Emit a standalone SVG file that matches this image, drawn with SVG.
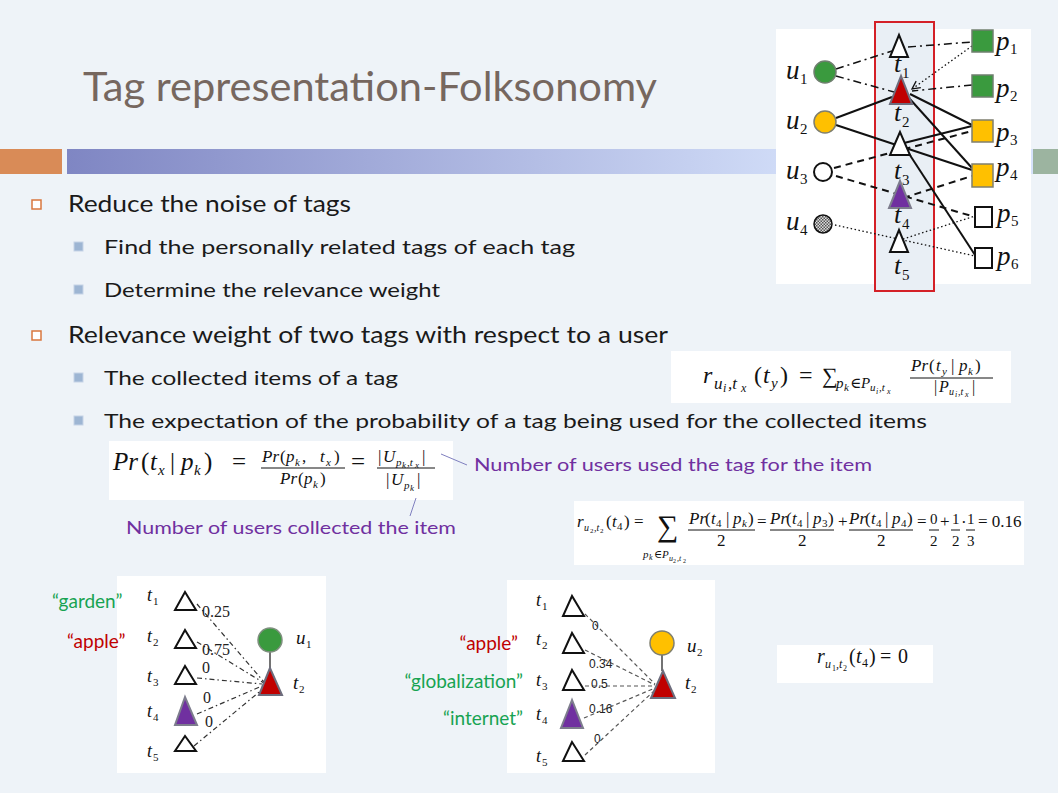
<svg xmlns="http://www.w3.org/2000/svg" width="1058" height="793" viewBox="0 0 1058 793">
<style>
.body{font-family:Lato,"Open Sans","DejaVu Sans",sans-serif;fill:#1a1a1a}
.l1{font-size:23px}
.l2{font-size:19px}
.title{font-family:Lato,"Open Sans",sans-serif;font-size:40px;fill:#76675F}
.m{font-family:"Liberation Serif","DejaVu Serif",serif;fill:#111}
.mi{font-family:"Liberation Serif","DejaVu Serif",serif;font-style:italic;fill:#111}
.note{font-family:Lato,"Open Sans",sans-serif;font-size:17px;fill:#7030A0}
.gl{font-family:Lato,"Open Sans",sans-serif;font-size:19px;fill:#17A352}
.rl{font-family:Lato,"Open Sans",sans-serif;font-size:19px;fill:#C00000}
.w{font-family:"Liberation Serif",serif;font-size:16px;fill:#222}
.ws{font-family:"Liberation Sans",Arial,sans-serif;font-size:12px;fill:#222}
.tri{fill:#fff;stroke:#111;stroke-width:2;stroke-linejoin:miter}
.trr{fill:#C00000;stroke:#6d6d7d;stroke-width:2}
.trp{fill:#7030A0;stroke:#7d7d8d;stroke-width:2}
.box{fill:#fff}
.solid{stroke:#111;stroke-width:2;fill:none}
.dash{stroke:#111;stroke-width:2;stroke-dasharray:7 5;fill:none}
.dd{stroke:#111;stroke-width:1.5;stroke-dasharray:8 4 2 4;fill:none}
.dot{stroke:#111;stroke-width:1.3;stroke-dasharray:1.5 2.5;fill:none}
.bdd{stroke:#333;stroke-width:1.2;stroke-dasharray:5 3 1.5 3;fill:none}
.bdot{stroke:#555;stroke-width:1.2;stroke-dasharray:4 3;fill:none}
</style>
<defs>
<linearGradient id="bar" x1="67" y1="0" x2="840" y2="0" gradientUnits="userSpaceOnUse">
<stop offset="0" stop-color="#7F86C3"/>
<stop offset="1" stop-color="#D6E2FB"/>
</linearGradient>
<pattern id="chk" width="3" height="3" patternUnits="userSpaceOnUse">
<rect width="3" height="3" fill="#ddd"/>
<rect width="1.5" height="1.5" fill="#555"/>
<rect x="1.5" y="1.5" width="1.5" height="1.5" fill="#555"/>
</pattern>
<marker id="arr" markerWidth="10" markerHeight="10" refX="9" refY="5" orient="auto" markerUnits="userSpaceOnUse">
<path d="M1,1 L9,5 L1,9" fill="none" stroke="#111" stroke-width="1.3"/>
</marker>
</defs>

<rect width="1058" height="793" fill="#EEF3F8"/>

<!-- header -->
<text class="title" x="83" y="101" textLength="574" lengthAdjust="spacingAndGlyphs">Tag representation-Folksonomy</text>
<rect x="0" y="149" width="62" height="25" fill="#D98B57"/>
<rect x="67" y="149" width="966" height="25" fill="url(#bar)"/>
<rect x="1033" y="149" width="25" height="25" fill="#9CB4A0"/>

<!-- bullets -->
<g id="bullets">
<rect x="32" y="200" width="9" height="9" fill="#fff" stroke="#D9773E" stroke-width="1.5"/>
<text class="body l1" x="68" y="212" textLength="283" lengthAdjust="spacingAndGlyphs">Reduce the noise of tags</text>
<rect x="74" y="242" width="9" height="9" fill="#9DB5D3" stroke="#c5d3e6" stroke-width="1"/>
<text class="body l2" x="104" y="254" textLength="471" lengthAdjust="spacingAndGlyphs">Find the personally related tags of each tag</text>
<rect x="74" y="285" width="9" height="9" fill="#9DB5D3" stroke="#c5d3e6" stroke-width="1"/>
<text class="body l2" x="104" y="297" textLength="336" lengthAdjust="spacingAndGlyphs">Determine the relevance weight</text>
<rect x="32" y="331" width="9" height="9" fill="#fff" stroke="#D9773E" stroke-width="1.5"/>
<text class="body l1" x="68" y="343" textLength="600" lengthAdjust="spacingAndGlyphs">Relevance weight of two tags with respect to a user</text>
<rect x="74" y="373" width="9" height="9" fill="#9DB5D3" stroke="#c5d3e6" stroke-width="1"/>
<text class="body l2" x="104" y="385" textLength="294" lengthAdjust="spacingAndGlyphs">The collected items of a tag</text>
<rect x="74" y="416" width="9" height="9" fill="#9DB5D3" stroke="#c5d3e6" stroke-width="1"/>
<text class="body l2" x="104" y="428" textLength="823" lengthAdjust="spacingAndGlyphs">The expectation of the probability of a tag being used for the collected items</text>
</g>

<!-- top right folksonomy graph -->
<g id="folksonomy">
<rect x="776" y="29" width="255" height="255" fill="#fff"/>
<rect x="875" y="22" width="59" height="269" fill="#E9EFF5" stroke="#D42027" stroke-width="2"/>
<g id="graph-connectors">
<line class="dd" x1="836" y1="69" x2="892" y2="51"/>
<line class="dd" x1="836" y1="76" x2="894" y2="92"/>
<line class="dd" x1="908" y1="47" x2="972" y2="42"/>
<line class="dot" x1="972" y1="46" x2="912" y2="89" marker-end="url(#arr)"/>
<line class="dd" x1="972" y1="85" x2="912" y2="91"/>
<line class="solid" x1="836" y1="118" x2="892" y2="97"/>
<line class="solid" x1="836" y1="125" x2="972" y2="170"/>
<line class="solid" x1="910" y1="94" x2="972" y2="125"/>
<line class="solid" x1="909" y1="98" x2="972" y2="168"/>
<line class="solid" x1="904" y1="143" x2="972" y2="126"/>
<line class="solid" x1="904" y1="146" x2="975" y2="255"/>
<line class="dash" x1="834" y1="168" x2="972" y2="131"/>
<line class="dash" x1="836" y1="176" x2="975" y2="217"/>
<line class="dash" x1="903" y1="198" x2="972" y2="176"/>
<line class="dot" x1="835" y1="225" x2="975" y2="256"/>
<line class="dot" x1="903" y1="239" x2="975" y2="216"/>
</g>
<g id="u1"><circle cx="825" cy="72" r="11" fill="#3A9A3E" stroke="#6f7f6f" stroke-width="1.5"/><text class="mi" x="786" y="79" font-size="27">u</text><text class="m" x="800" y="84" font-size="15">1</text></g>
<g id="u2"><circle cx="825" cy="122" r="11" fill="#FFC000" stroke="#7f7f6f" stroke-width="1.5"/><text class="mi" x="786" y="129" font-size="27">u</text><text class="m" x="800" y="134" font-size="15">2</text></g>
<g id="u3"><circle cx="823" cy="172" r="9" fill="#fff" stroke="#111" stroke-width="2"/><text class="mi" x="786" y="179" font-size="27">u</text><text class="m" x="800" y="184" font-size="15">3</text></g>
<g id="u4"><circle cx="823" cy="224" r="9" fill="url(#chk)" stroke="#111" stroke-width="1.5"/><text class="mi" x="786" y="230" font-size="27">u</text><text class="m" x="800" y="235" font-size="15">4</text></g>
<g id="t1"><polygon class="tri" points="899,35 890,57 908,57"/><text class="mi" x="894" y="72" font-size="26">t</text><text class="m" x="902" y="78" font-size="15">1</text></g>
<g id="t2"><polygon class="trr" points="901,76 890,104 912,104"/><text class="mi" x="894" y="121" font-size="26">t</text><text class="m" x="902" y="127" font-size="15">2</text></g>
<g id="t3"><polygon class="tri" points="900,132 890,155 910,155"/><text class="mi" x="894" y="179" font-size="26">t</text><text class="m" x="902" y="185" font-size="15">3</text></g>
<g id="t4"><polygon class="trp" points="900,181 889,208 911,208"/><text class="mi" x="894" y="223" font-size="26">t</text><text class="m" x="902" y="229" font-size="15">4</text></g>
<g id="t5"><polygon class="tri" points="899,230 890,252 908,252"/><text class="mi" x="894" y="274" font-size="26">t</text><text class="m" x="902" y="280" font-size="15">5</text></g>
<g id="p1"><rect x="972" y="30" width="21" height="22" fill="#3A9A3E" stroke="#6f7f6f" stroke-width="1.5"/><text class="mi" x="996" y="50" font-size="27">p</text><text class="m" x="1010" y="54" font-size="15">1</text></g>
<g id="p2"><rect x="972" y="75" width="21" height="22" fill="#3A9A3E" stroke="#6f7f6f" stroke-width="1.5"/><text class="mi" x="996" y="97" font-size="27">p</text><text class="m" x="1010" y="101" font-size="15">2</text></g>
<g id="p3"><rect x="972" y="120" width="21" height="22" fill="#FFC000" stroke="#7f7f6f" stroke-width="1.5"/><text class="mi" x="996" y="141" font-size="27">p</text><text class="m" x="1010" y="145" font-size="15">3</text></g>
<g id="p4"><rect x="972" y="164" width="21" height="23" fill="#FFC000" stroke="#7f7f6f" stroke-width="1.5"/><text class="mi" x="996" y="176" font-size="27">p</text><text class="m" x="1010" y="180" font-size="15">4</text></g>
<g id="p5"><rect x="975" y="207" width="17" height="20" fill="#fff" stroke="#111" stroke-width="2"/><text class="mi" x="997" y="222" font-size="27">p</text><text class="m" x="1011" y="226" font-size="15">5</text></g>
<g id="p6"><rect x="975" y="248" width="17" height="20" fill="#fff" stroke="#111" stroke-width="2"/><text class="mi" x="997" y="265" font-size="27">p</text><text class="m" x="1011" y="269" font-size="15">6</text></g>
</g>

<!-- formula 1 -->
<g id="formula-r">
<rect class="box" x="671" y="351" width="340" height="52"/>
<text class="mi" x="703" y="383" font-size="24">r</text>
<text class="mi" x="714" y="389" font-size="17">u</text><text class="mi" x="723" y="392" font-size="12">i</text><text class="mi" x="728" y="389" font-size="17">,t</text><text class="mi" x="741" y="392" font-size="12">x</text>
<text class="m" x="754" y="383" font-size="24">(</text><text class="mi" x="763" y="383" font-size="24">t</text><text class="mi" x="771" y="388" font-size="15">y</text><text class="m" x="780" y="383" font-size="24">)</text>
<text class="m" x="799" y="383" font-size="24">=</text>
<text class="m" x="822" y="383" font-size="22">∑</text>
<text class="mi" x="836" y="388" font-size="15">p</text><text class="mi" x="844" y="391" font-size="11">k</text><text class="m" x="850" y="388" font-size="15">∈</text><text class="mi" x="861" y="388" font-size="15">P</text><text class="mi" x="870" y="391" font-size="11">u</text><text class="mi" x="876" y="394" font-size="8">i</text><text class="mi" x="879" y="391" font-size="11">,t</text><text class="mi" x="887" y="394" font-size="8">x</text>
<text class="mi" x="911" y="371" font-size="17">Pr</text><text class="m" x="929" y="371" font-size="17">(</text><text class="mi" x="936" y="371" font-size="17">t</text><text class="mi" x="942" y="375" font-size="11">y</text><text class="m" x="951" y="371" font-size="17">|</text><text class="mi" x="959" y="371" font-size="17">p</text><text class="mi" x="968" y="375" font-size="11">k</text><text class="m" x="975" y="371" font-size="17">)</text>
<line x1="910" y1="378" x2="993" y2="378" stroke="#111" stroke-width="1"/>
<text class="m" x="934" y="392" font-size="16">|</text><text class="mi" x="939" y="392" font-size="16">P</text><text class="mi" x="949" y="395" font-size="10">u</text><text class="mi" x="955" y="397" font-size="8">i</text><text class="mi" x="958" y="395" font-size="10">,t</text><text class="mi" x="965" y="397" font-size="8">x</text><text class="m" x="972" y="392" font-size="16">|</text>
</g>

<!-- formula 2 -->
<g id="formula-pr">
<rect class="box" x="109" y="441" width="344" height="59"/>
<text class="mi" x="113" y="470" font-size="25">Pr</text><text class="m" x="141" y="470" font-size="25">(</text><text class="mi" x="150" y="470" font-size="25">t</text><text class="mi" x="158" y="475" font-size="15">x</text><text class="m" x="170" y="470" font-size="25">|</text><text class="mi" x="181" y="470" font-size="25">p</text><text class="mi" x="194" y="475" font-size="15">k</text><text class="m" x="204" y="470" font-size="25">)</text>
<text class="m" x="232" y="470" font-size="25">=</text>
<text class="mi" x="262" y="462" font-size="17">Pr</text><text class="m" x="280" y="462" font-size="17">(</text><text class="mi" x="286" y="462" font-size="17">p</text><text class="mi" x="295" y="466" font-size="11">k</text><text class="m" x="302" y="462" font-size="17">,</text><text class="mi" x="320" y="462" font-size="17">t</text><text class="mi" x="326" y="466" font-size="11">x</text><text class="m" x="334" y="462" font-size="17">)</text>
<line x1="261" y1="468" x2="345" y2="468" stroke="#111" stroke-width="1"/>
<text class="mi" x="280" y="484" font-size="17">Pr</text><text class="m" x="298" y="484" font-size="17">(</text><text class="mi" x="304" y="484" font-size="17">p</text><text class="mi" x="313" y="488" font-size="11">k</text><text class="m" x="320" y="484" font-size="17">)</text>
<text class="m" x="351" y="470" font-size="25">=</text>
<text class="m" x="378" y="462" font-size="17">|</text><text class="mi" x="383" y="462" font-size="17">U</text><text class="mi" x="396" y="466" font-size="11">p</text><text class="mi" x="402" y="468" font-size="9">k</text><text class="mi" x="407" y="466" font-size="11">,t</text><text class="mi" x="415" y="468" font-size="9">x</text><text class="m" x="422" y="462" font-size="17">|</text>
<line x1="377" y1="468" x2="435" y2="468" stroke="#111" stroke-width="1"/>
<text class="m" x="386" y="485" font-size="17">|</text><text class="mi" x="391" y="485" font-size="17">U</text><text class="mi" x="404" y="489" font-size="11">p</text><text class="mi" x="410" y="491" font-size="9">k</text><text class="m" x="417" y="485" font-size="17">|</text>
</g>

<!-- annotations -->
<g id="notes">
<line x1="441" y1="454" x2="467" y2="465" stroke="#7F7FBF" stroke-width="1"/>
<text class="note" x="474" y="471" textLength="398" lengthAdjust="spacingAndGlyphs">Number of users used the tag for the item</text>
<line x1="416" y1="498" x2="410" y2="516" stroke="#7F7FBF" stroke-width="1"/>
<text class="note" x="126" y="534" textLength="330" lengthAdjust="spacingAndGlyphs">Number of users collected the item</text>
</g>

<!-- formula 3 -->
<g id="formula-calc">
<rect class="box" x="574" y="501" width="450" height="64"/>
<text class="mi" x="577" y="527" font-size="17">r</text><text class="mi" x="584" y="531" font-size="10">u</text><text class="m" x="590" y="533" font-size="7">2</text><text class="mi" x="594" y="531" font-size="10">,t</text><text class="m" x="600" y="533" font-size="7">2</text>
<text class="m" x="606" y="527" font-size="17">(</text><text class="mi" x="612" y="527" font-size="17">t</text><text class="m" x="617" y="530" font-size="11">4</text><text class="m" x="624" y="527" font-size="17">)</text>
<text class="m" x="634" y="527" font-size="17">=</text>
<text class="m" x="657" y="536" font-size="30">∑</text>
<text class="mi" x="643" y="558" font-size="11">p</text><text class="mi" x="649" y="560" font-size="8">k</text><text class="m" x="654" y="558" font-size="11">∈</text><text class="mi" x="662" y="558" font-size="11">P</text><text class="mi" x="669" y="561" font-size="8">u</text><text class="m" x="673" y="563" font-size="6">2</text><text class="mi" x="677" y="561" font-size="8">,t</text><text class="m" x="683" y="563" font-size="6">2</text>
<text class="mi" x="689" y="524" font-size="17">Pr</text><text class="m" x="705" y="524" font-size="17">(</text><text class="mi" x="711" y="524" font-size="17">t</text><text class="m" x="716" y="527" font-size="11">4</text><text class="m" x="726" y="524" font-size="17">|</text><text class="mi" x="733" y="524" font-size="17">p</text><text class="mi" x="742" y="527" font-size="11">k</text><text class="m" x="748" y="524" font-size="17">)</text>
<line x1="688" y1="530" x2="755" y2="530" stroke="#111" stroke-width="1"/>
<text class="m" x="717" y="546" font-size="17">2</text>
<text class="m" x="757" y="527" font-size="17">=</text>
<text class="mi" x="770" y="524" font-size="17">Pr</text><text class="m" x="786" y="524" font-size="17">(</text><text class="mi" x="792" y="524" font-size="17">t</text><text class="m" x="797" y="527" font-size="11">4</text><text class="m" x="806" y="524" font-size="17">|</text><text class="mi" x="813" y="524" font-size="17">p</text><text class="m" x="822" y="527" font-size="11">3</text><text class="m" x="828" y="524" font-size="17">)</text>
<line x1="770" y1="530" x2="834" y2="530" stroke="#111" stroke-width="1"/>
<text class="m" x="798" y="546" font-size="17">2</text>
<text class="m" x="838" y="527" font-size="17">+</text>
<text class="mi" x="849" y="524" font-size="17">Pr</text><text class="m" x="865" y="524" font-size="17">(</text><text class="mi" x="871" y="524" font-size="17">t</text><text class="m" x="876" y="527" font-size="11">4</text><text class="m" x="885" y="524" font-size="17">|</text><text class="mi" x="892" y="524" font-size="17">p</text><text class="m" x="901" y="527" font-size="11">4</text><text class="m" x="907" y="524" font-size="17">)</text>
<line x1="849" y1="530" x2="913" y2="530" stroke="#111" stroke-width="1"/>
<text class="m" x="877" y="546" font-size="17">2</text>
<text class="m" x="917" y="527" font-size="17">=</text>
<text class="m" x="930" y="524" font-size="15">0</text><line x1="929" y1="530" x2="939" y2="530" stroke="#111" stroke-width="1"/><text class="m" x="930" y="546" font-size="15">2</text>
<text class="m" x="940" y="527" font-size="17">+</text>
<text class="m" x="952" y="524" font-size="15">1</text><line x1="951" y1="530" x2="960" y2="530" stroke="#111" stroke-width="1"/><text class="m" x="952" y="546" font-size="15">2</text>
<text class="m" x="961" y="528" font-size="17">·</text>
<text class="m" x="967" y="524" font-size="15">1</text><line x1="966" y1="530" x2="975" y2="530" stroke="#111" stroke-width="1"/><text class="m" x="967" y="546" font-size="15">3</text>
<text class="m" x="978" y="527" font-size="17">= 0.16</text>
</g>

<!-- bottom-left graph -->
<g id="graph-u1">
<rect x="117" y="576" width="209" height="197" fill="#fff"/>
<g id="bl-connectors">
<line class="bdd" x1="197" y1="604" x2="264" y2="682"/>
<line class="bdd" x1="197" y1="642" x2="264" y2="683"/>
<line class="bdd" x1="197" y1="678" x2="262" y2="684"/>
<line class="bdd" x1="197" y1="714" x2="262" y2="686"/>
<line class="bdd" x1="194" y1="746" x2="264" y2="688"/>
<line x1="270" y1="652" x2="270" y2="668" stroke="#444" stroke-width="1.5"/>
</g>
<g id="bl-t1"><polygon class="tri" points="185,592 175,610 196,610"/><text class="mi" x="147" y="601" font-size="18">t</text><text class="m" x="153" y="605" font-size="11">1</text></g>
<g id="bl-t2"><polygon class="tri" points="185,630 175,648 196,648"/><text class="mi" x="147" y="642" font-size="18">t</text><text class="m" x="153" y="646" font-size="11">2</text></g>
<g id="bl-t3"><polygon class="tri" points="185,666 175,684 196,684"/><text class="mi" x="147" y="682" font-size="18">t</text><text class="m" x="153" y="686" font-size="11">3</text></g>
<g id="bl-t4"><polygon class="trp" points="185,697 175,725 197,725"/><text class="mi" x="147" y="717" font-size="18">t</text><text class="m" x="153" y="721" font-size="11">4</text></g>
<g id="bl-t5"><polygon class="tri" points="185,736 175,751 196,751"/><text class="mi" x="147" y="757" font-size="18">t</text><text class="m" x="153" y="761" font-size="11">5</text></g>
<g id="bl-u1"><circle cx="270" cy="640" r="12" fill="#3A9A3E" stroke="#7f8f7f" stroke-width="1.5"/><text class="mi" x="296" y="644" font-size="19">u</text><text class="m" x="306" y="648" font-size="11">1</text></g>
<g id="bl-tt2"><polygon class="trr" points="270,668 259,695 282,695"/><text class="mi" x="293" y="689" font-size="19">t</text><text class="m" x="299" y="693" font-size="11">2</text></g>
<text class="w" x="202" y="617">0.25</text>
<text class="w" x="202" y="655">0.75</text>
<text class="w" x="202" y="673">0</text>
<text class="w" x="203" y="703">0</text>
<text class="w" x="205" y="727">0</text>
<text class="gl" x="52" y="608">“garden”</text>
<text class="rl" x="67" y="648">“apple”</text>
</g>

<!-- bottom-middle graph -->
<g id="graph-u2">
<rect x="507" y="580" width="208" height="193" fill="#fff"/>
<g id="bm-connectors">
<line class="bdot" x1="585" y1="614" x2="655" y2="684"/>
<line class="bdot" x1="585" y1="650" x2="655" y2="685"/>
<line class="bdot" x1="585" y1="686" x2="654" y2="686"/>
<line class="bdot" x1="584" y1="718" x2="655" y2="688"/>
<line class="bdot" x1="585" y1="755" x2="655" y2="690"/>
<line x1="662" y1="655" x2="662" y2="671" stroke="#444" stroke-width="1.5"/>
</g>
<g id="bm-t1"><polygon class="tri" points="572,596 563,616 584,616"/><text class="mi" x="536" y="606" font-size="18">t</text><text class="m" x="542" y="610" font-size="11">1</text></g>
<g id="bm-t2"><polygon class="tri" points="572,633 563,653 584,653"/><text class="mi" x="536" y="645" font-size="18">t</text><text class="m" x="542" y="649" font-size="11">2</text></g>
<g id="bm-t3"><polygon class="tri" points="572,670 563,690 584,690"/><text class="mi" x="536" y="686" font-size="18">t</text><text class="m" x="542" y="690" font-size="11">3</text></g>
<g id="bm-t4"><polygon class="trp" points="572,700 561,728 583,728"/><text class="mi" x="536" y="720" font-size="18">t</text><text class="m" x="542" y="724" font-size="11">4</text></g>
<g id="bm-t5"><polygon class="tri" points="572,742 563,761 584,761"/><text class="mi" x="536" y="762" font-size="18">t</text><text class="m" x="542" y="766" font-size="11">5</text></g>
<g id="bm-u2"><circle cx="662" cy="643" r="12" fill="#FFC000" stroke="#7f7f6f" stroke-width="1.5"/><text class="mi" x="687" y="652" font-size="19">u</text><text class="m" x="697" y="656" font-size="11">2</text></g>
<g id="bm-tt2"><polygon class="trr" points="663,671 651,698 675,698"/><text class="mi" x="685" y="689" font-size="19">t</text><text class="m" x="691" y="693" font-size="11">2</text></g>
<text class="ws" x="592" y="630">0</text>
<text class="ws" x="589" y="668">0.34</text>
<text class="ws" x="591" y="688">0.5</text>
<text class="ws" x="589" y="713">0.16</text>
<text class="ws" x="594" y="743">0</text>
<text class="rl" x="518" y="650" text-anchor="end">“apple”</text>
<text class="gl" x="523" y="688" text-anchor="end">“globalization”</text>
<text class="gl" x="523" y="725" text-anchor="end">“internet”</text>
</g>

<!-- formula 4 -->
<g id="formula-zero">
<rect class="box" x="777" y="645" width="156" height="38"/>
<text class="mi" x="817" y="663" font-size="20">r</text><text class="mi" x="825" y="668" font-size="12">u</text><text class="m" x="832" y="671" font-size="8">1</text><text class="mi" x="836" y="668" font-size="12">,t</text><text class="m" x="843" y="671" font-size="8">2</text>
<text class="m" x="849" y="663" font-size="20">(</text><text class="mi" x="856" y="663" font-size="20">t</text><text class="m" x="862" y="667" font-size="12">4</text><text class="m" x="869" y="663" font-size="20">)</text>
<text class="m" x="880" y="663" font-size="20">=</text>
<text class="m" x="898" y="663" font-size="20">0</text>
</g>
</svg>
